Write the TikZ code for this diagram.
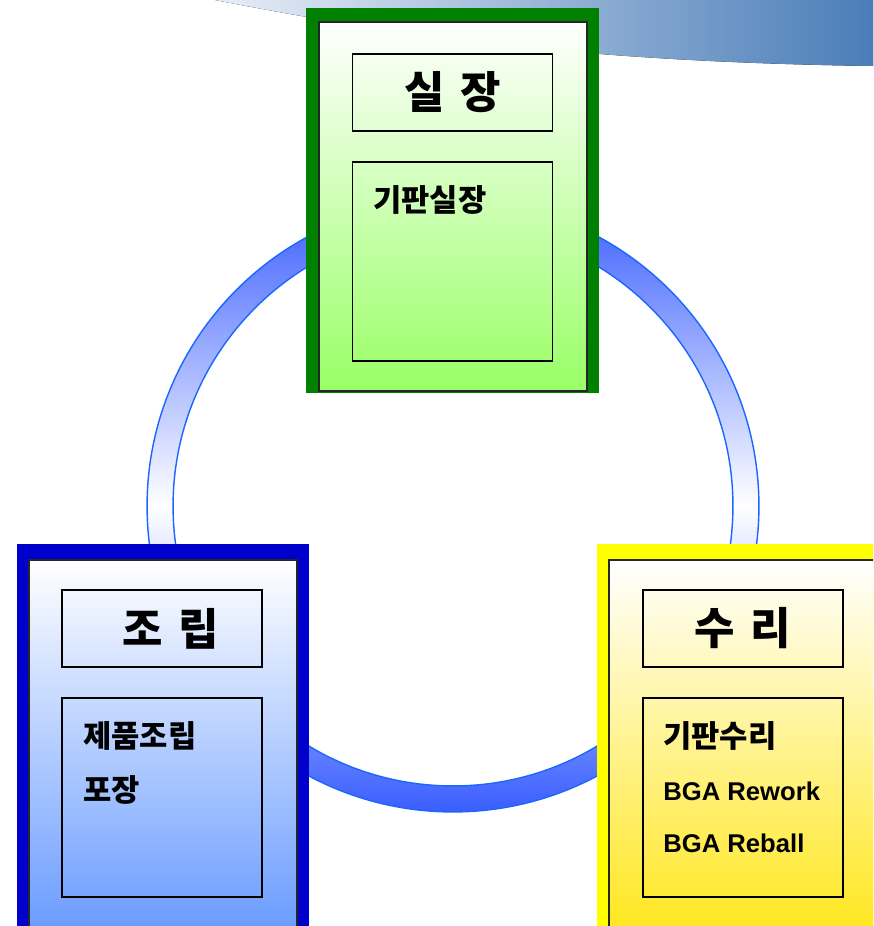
\documentclass[tikz,border=0pt]{standalone}
\usepackage{fontspec}
\setmainfont{Liberation Sans}
\newfontfamily\kr{Noto Sans CJK KR}
\usetikzlibrary{positioning}
\definecolor{frameG}{HTML}{008000}
\definecolor{frameB}{HTML}{0000CC}
\definecolor{frameY}{HTML}{FFFF00}
\definecolor{endG}{HTML}{99FF66}
\definecolor{endB}{HTML}{6699FF}
\definecolor{endY}{HTML}{FFE61A}
\definecolor{ringline}{HTML}{1A66FF}
\definecolor{ringblue}{HTML}{3A5EFF}
\definecolor{swishL}{HTML}{E8EEF7}
\definecolor{swishR}{HTML}{4A7DB8}
\tikzstyle{panel} = [draw=black!85, line width=0.8pt]
\tikzstyle{titlebox} = [rectangle, draw=black, line width=1pt, minimum width=4cm, minimum height=1.54cm, inner sep=0pt, font=\kr\bfseries\fontsize{25}{30}\selectfont]
\tikzstyle{listbox} = [rectangle, draw=black, line width=1pt, minimum width=4cm, minimum height=3.98cm, inner sep=0pt]
\tikzstyle{item} = [anchor=west, inner sep=0pt, font=\kr\bfseries\fontsize{17.5}{20}\selectfont]
\tikzstyle{itemen} = [anchor=west, inner sep=0pt, font=\bfseries\fontsize{14.6}{17}\selectfont]
\newcommand{\gap}{\hspace{0.35em}}

\begin{document}
\begin{tikzpicture}[x=0.02cm, y=-0.02cm]
    \clip (0,0) rectangle (873,926);
    \fill[white] (0,0) rectangle (873,926);
    % swoosh top right
    \fill[left color=swishL, right color=swishR] (215,0) .. controls (420,40) and (600,62) .. (873,66) -- (873,0) -- cycle;
    % ring
    \coordinate (c) at (453,506);
    \path[even odd rule, top color=ringblue, bottom color=ringblue, middle color=white] (c) circle [radius=6.12cm] (c) circle [radius=5.6cm];
    \draw[ringline, line width=0.8pt] (c) circle [radius=6.12cm] (c) circle [radius=5.6cm];

    % green frame
    \fill[frameG] (306,8) rectangle (599,393);
    \path[panel, top color=white, bottom color=endG] (319,22) rectangle (587,391);
    \node (tG) [titlebox] at (452.5,92.5) {실\gap 장};
    \node (lG) [listbox] at (452.5,261.5) {};
    \node (g1) [item] at (373,200) {기판실장};

    % blue frame
    \fill[frameB] (17,544) rectangle (309,940);
    \path[panel, top color=white, bottom color=endB] (29,560) rectangle (297,940);
    \node (tB) [titlebox] at (162,628.5) {\hspace{0.4em}조\gap 립};
    \node (lB) [listbox] at (162,797.5) {};
    \node (b1) [item] at (83,736) {제품조립};
    \node (b2) [item] at (83,790) {포장};

    % yellow frame
    \fill[frameY] (597,544) rectangle (900,940);
    \path[panel, top color=white, bottom color=endY] (609,560) rectangle (900,940);
    \node (tY) [titlebox] at (743,628.5) {수\gap 리};
    \node (lY) [listbox] at (743,797.5) {};
    \node (y1) [item] at (663,736) {기판수리};
    \node (y2) [itemen] at (663,791) {BGA Rework};
    \node (y3) [itemen] at (663,843) {BGA Reball};
\end{tikzpicture}
\end{document}
